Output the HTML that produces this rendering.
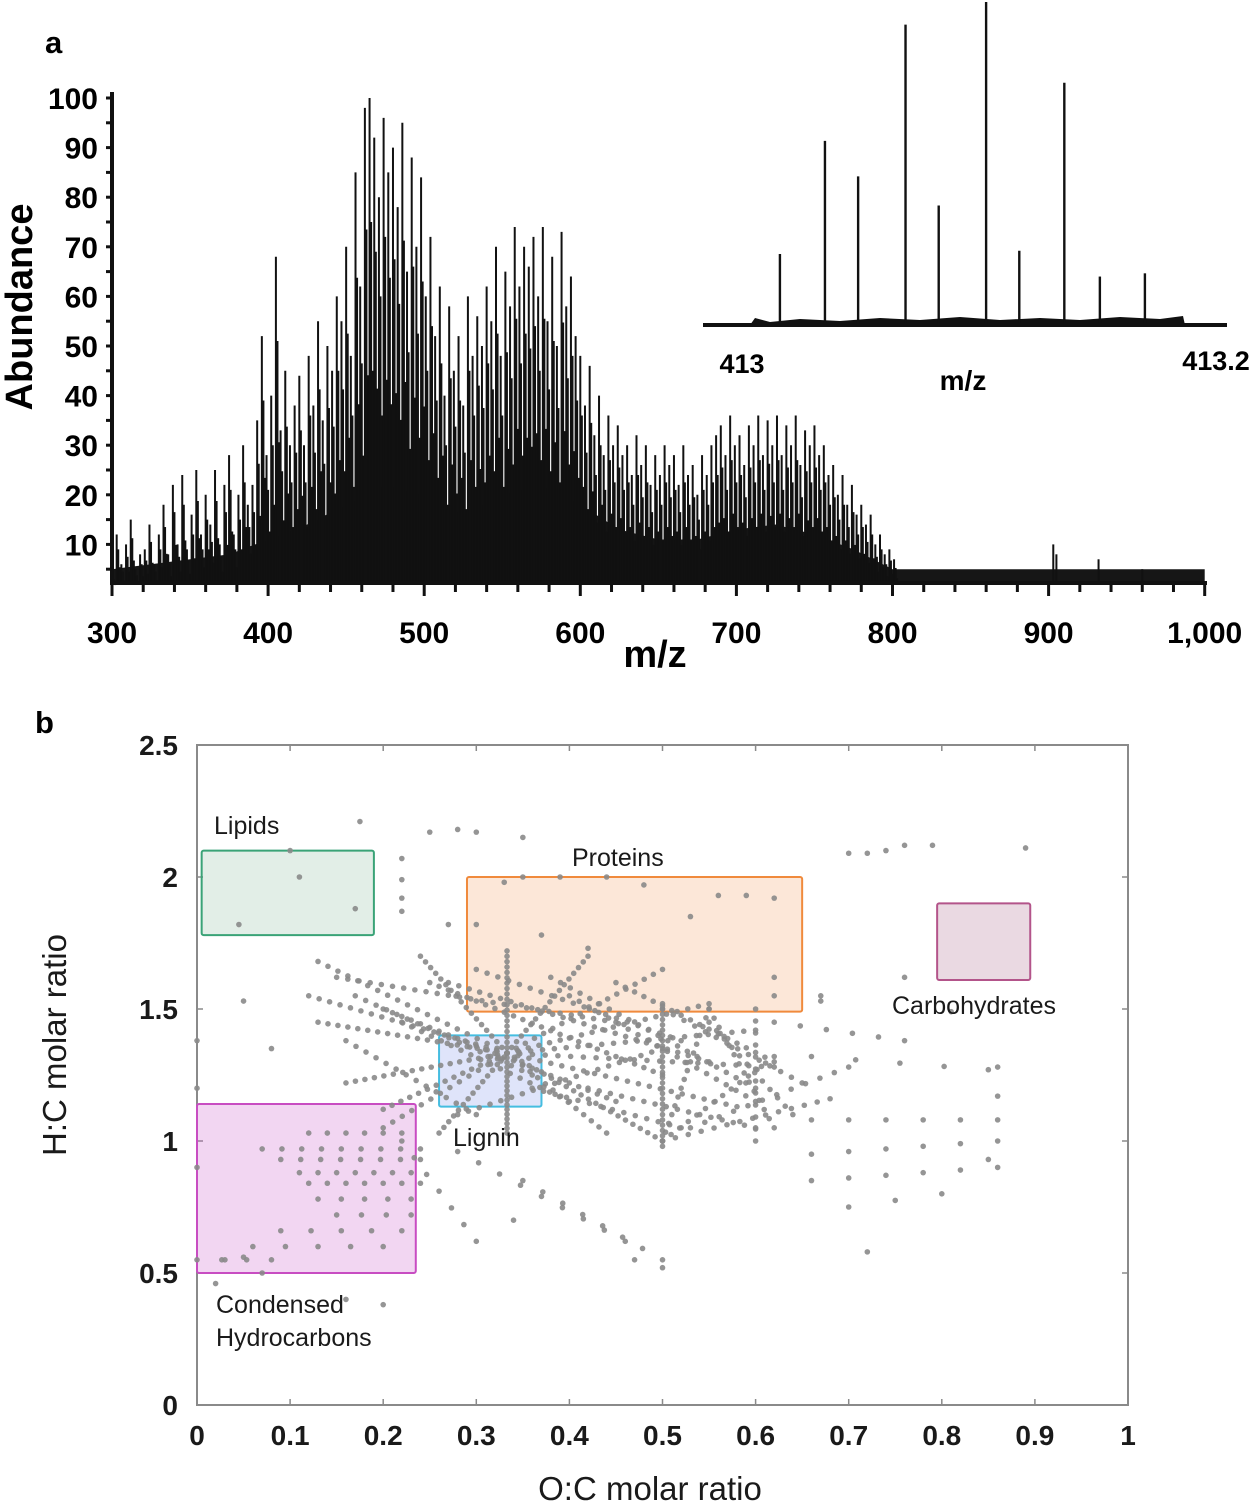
<!DOCTYPE html>
<html><head><meta charset="utf-8"><style>
html,body{margin:0;padding:0;background:#fff;}
svg{display:block;}
.t{font-family:"Liberation Sans",Arial,sans-serif;}
</style></head><body>
<svg id="fig" width="1252" height="1505" viewBox="0 0 1252 1505" xmlns="http://www.w3.org/2000/svg">
<g id="pa"></g>
<g id="pb"></g>
</svg>
<script>
// ===== Panel a data =====
const mzStart = 300, mzStep = 3;
const peakHeights = [
4,12,6,10,15,5,8,9,14,6,
12,18,8,22,10,24,9,16,25,12,
20,14,25,10,22,28,12,20,30,18,
22,35,52,28,40,68,33,45,30,38,
44,30,48,38,55,35,50,45,60,55,
70,48,85,62,98,100,92,80,96,85,
90,78,95,65,88,70,84,60,72,52,
62,40,58,45,52,38,60,48,56,50,
62,55,70,48,65,58,74,62,70,66,
72,60,74,55,68,50,73,58,64,52,
48,38,46,32,40,28,36,30,34,28,
30,24,32,26,30,22,28,24,30,26,
28,22,30,24,26,20,28,24,30,32,
34,28,36,30,32,26,34,30,36,28,
35,30,36,28,34,30,36,26,33,30,
34,28,30,24,26,20,24,18,22,16,
18,14,16,10,12,8,9,7];
const baseMz = [300,325,350,375,400,425,450,475,500,525,550,575,600,625,650,675,700,725,750,775,800,825,850,875,900,925,950,975,1000];
const baseVals = [5,6,7,8,11,14,18,22,20,16,20,22,18,13,11,11,13,14,12,9,5,5,5,5,5,5,5,5,5];
const extraMz = [903,905,932,960];
const extraVals = [10,8,7,5];
const xTicksA = [300,400,500,600,700,800,900,1000];
const xTickLabelsA = ["300","400","500","600","700","800","900","1,000"];
const yTicksA = [10,20,30,40,50,60,70,80,90,100];
// inset
const insetMz = [413.016,413.035,413.049,413.069,413.083,413.103,413.117,413.136,413.151,413.170];
const insetRel = [0.22,0.57,0.46,0.93,0.37,1.0,0.23,0.75,0.15,0.16];

// ===== Panel b data =====
const xTicksB = [0,0.1,0.2,0.3,0.4,0.5,0.6,0.7,0.8,0.9,1];
const xTickLabelsB = ["0","0.1","0.2","0.3","0.4","0.5","0.6","0.7","0.8","0.9","1"];
const yTicksB = [0,0.5,1,1.5,2,2.5];
const yTickLabelsB = ["0","0.5","1","1.5","2","2.5"];
const segX1 = [0.333,0.333,0.333,0.333,0.333,0.333,0.333,0.333,0.333,0.333,0.333,0.333,0.333,0.333,0.333,0.333,0.333,0.333, 0.15,0.16,0.25,0.2,0.27,0.28,0.38, 0.5,0.5,0.5,0.5,0.5,0.55,0.53,0.6, 0.28,0.35,0.22, 0.12,0.07,0.09,0.11,0.12,0.13,0.15,0.09,0.06,0.0, 0.66,0.66,0.66,0.7,0.62,0.66, 0.17,0.22,0.3,0.4,0.45,0.36,0.42,0.55];
const segY1 = [1.333,1.333,1.333,1.333,1.333,1.333,1.333,1.333,1.333,1.333,1.333,1.333,1.333,1.333,1.333,1.333,1.333,1.333, 1.62,1.38,1.6,1.5,1.6,1.1,1.62, 1.52,1.0,1.0,1.0,1.5,1.5,1.05,1.5, 0.96,0.85,1.0, 1.03,0.97,0.93,0.88,0.84,0.78,0.72,0.66,0.6,0.55, 1.08,0.95,0.85,0.75,1.45,1.32, 1.55,1.45,1.65,1.55,1.6,1.2,1.2,1.45];
const segX2 = [0.13,0.12,0.13,0.16,0.2,0.26,0.333,0.333,0.24,0.42,0.5,0.55,0.6,0.5,0.44,0.58,0.62,0.2, 0.45,0.3,0.5,0.45,0.55,0.5,0.6, 0.5,0.55,0.62,0.68,0.65,0.62,0.7,0.6, 0.46,0.5,0.3, 0.22,0.24,0.24,0.23,0.24,0.23,0.23,0.22,0.2,0.08, 0.86,0.86,0.86,0.8,0.76,0.85, 0.36,0.4,0.52,0.6,0.62,0.52,0.6,0.64];
const segY2 = [1.68,1.55,1.45,1.22,1.12,1.03,1.72,1.03,1.7,1.7,1.65,1.52,1.42,1.0,1.03,1.13,1.28,1.05, 1.45,1.1,1.25,1.15,1.3,1.35,1.2, 0.98,1.5,1.32,1.16,1.22,1.05,1.28,1.0, 0.62,0.55,0.62, 1.03,0.97,0.93,0.88,0.84,0.78,0.72,0.66,0.6,0.55, 1.08,1.0,0.9,0.8,1.38,1.27, 1.25,1.15,1.38,1.15,1.3,1.05,1.05,1.1];
const segCounts = [20,20,20,18,15,15,20,18,18,18,18,20,22,22,14,22,22,14, 26,14,26,26,26,20,22, 28,16,14,14,14,14,12,12, 9,8,7, 6,9,8,7,7,5,4,5,5,4, 6,6,6,3,6,5, 18,18,20,20,18,14,16,12];
const ptX = [0.1,0.11,0.17,0.045,0.175,0.05,0.08,0.22,0.22,0.25,0.28,0.3,0.35,0.22,0.22,0.27,0.3,0.35,0.39,0.33,0.44,0.48,0.56,0.59,0.62,0.53,0.37,0.42,0.62,0.62,0.67,0.67,0.7,0.72,0.74,0.76,0.79,0.76,0.81,0.86,0.89,0.86,0.85,0.72,0.5,0.47,0.34,0.2,0.16,0.02,0.05,0.03,0.07,0.0,0.0,0.0];
const ptY = [2.1,2.0,1.88,1.82,2.21,1.53,1.35,2.07,1.99,2.17,2.18,2.17,2.15,1.92,1.87,1.82,1.82,2.0,2.0,1.98,2.0,1.97,1.93,1.93,1.92,1.85,1.78,1.73,1.62,1.55,1.55,1.53,2.09,2.09,2.1,2.12,2.12,1.62,1.49,1.28,2.11,1.17,0.93,0.58,0.52,0.55,0.7,0.38,0.4,0.46,0.56,0.55,0.5,1.38,1.2,0.9];
const boxNames = ["lipids-box","proteins-box","lignin-box","condensed-hydrocarbons-box","carbohydrates-box"];
const boxX0 = [0.005,0.29,0.26,0.0,0.795];
const boxX1 = [0.19,0.65,0.37,0.235,0.895];
const boxY0 = [1.78,1.49,1.13,0.5,1.61];
const boxY1 = [2.1,2.0,1.4,1.14,1.9];
const boxStroke = ["#3aa377","#f08a3c","#45bde0","#c84dc2","#b3548a"];
const boxFill = ["rgba(60,140,95,0.15)","rgba(245,160,100,0.25)","rgba(110,130,230,0.22)","rgba(205,90,205,0.25)","rgba(160,80,125,0.22)"];

const NS = "http://www.w3.org/2000/svg";
function mk(parent, tag, attrs, text){
  const e = document.createElementNS(NS, tag);
  for (const k in attrs) e.setAttribute(k, attrs[k]);
  if (text !== undefined) e.textContent = text;
  parent.appendChild(e);
  return e;
}
// ===== Panel a =====
const pa = document.getElementById('pa');
const ax = mz => 112 + (mz - 300) * 1.561;
const ay = v => 594 - v * 4.96;
let lbl = mk(pa,'text',{x:45,y:53,class:'t','font-size':31,'font-weight':'bold'},'a');
 
let bd = `M${ax(300)},583`;
baseMz.forEach((m,i)=>{ bd += ` L${ax(m)},${Math.min(583,ay(baseVals[i]))}`; });
bd += ` L${ax(1000)},583 Z`;
let band = mk(pa,'path',{d:bd,fill:'#161616'});
 
const pk = mk(pa,'g',{stroke:'#111','stroke-width':2});
 
peakHeights.forEach((h,i)=>{
  const m = mzStart + i*mzStep;
  const l = mk(pk,'line',{x1:ax(m),x2:ax(m),y1:583,y2:ay(h)});
   
  const l2 = mk(pk,'line',{x1:ax(m+1),x2:ax(m+1),y1:583,y2:ay(h*0.75)});
   
  const l3 = mk(pk,'line',{x1:ax(m+2),x2:ax(m+2),y1:583,y2:ay(h*0.45)});
   
});
extraMz.forEach((m,i)=>{
  const l = mk(pk,'line',{x1:ax(m),x2:ax(m),y1:583,y2:ay(extraVals[i])});
   
});
let axl = mk(pa,'line',{x1:112,y1:583,x2:1207,y2:583,stroke:'#111','stroke-width':4});
 
let ayl = mk(pa,'line',{x1:112,y1:92,x2:112,y2:585,stroke:'#111','stroke-width':4});
 
for(let m=300;m<=1000;m+=20){
  const t = mk(pa,'line',{x1:ax(m),x2:ax(m),y1:583,y2:m%100===0?596:592,stroke:'#111','stroke-width':3});
   
}
xTicksA.forEach((m,i)=>{
  const t = mk(pa,'text',{x:ax(m),y:643,class:'t','font-size':30,'font-weight':'bold','text-anchor':'middle'},xTickLabelsA[i]);
   
});
for(let v=5;v<=100;v+=5){
  const t = mk(pa,'line',{x1:106,x2:112,y1:ay(v),y2:ay(v),stroke:'#111','stroke-width':3});
   
}
yTicksA.forEach(v=>{
  const t = mk(pa,'text',{x:98,y:ay(v)+11,class:'t','font-size':30,'font-weight':'bold','text-anchor':'end'},String(v));
   
});
let xt = mk(pa,'text',{x:655,y:667,class:'t','font-size':38,'font-weight':'bold','text-anchor':'middle'},'m/z');
 
let yt = mk(pa,'text',{x:0,y:0,class:'t','font-size':38,'font-weight':'bold','text-anchor':'middle',transform:'translate(32,307) rotate(-90)'},'Abundance');
 
const ins = mk(pa,'g',{});
 
const ix = m => 742 + (m - 413) * 2370;
const iy = r => 325 - r * 323;
let inb = mk(ins,'path',{d:'M750,325 L755,318 L770,322 L800,319 L840,321 L880,318 L920,320 L960,317 L1000,320 L1040,318 L1080,320 L1120,317 L1160,319 L1183,316 L1185,325 Z',fill:'#111'});
 
insetMz.forEach((m,i)=>{
  const l = mk(ins,'line',{x1:ix(m),x2:ix(m),y1:325,y2:iy(insetRel[i]),stroke:'#111','stroke-width':2.4});
   
});
let ial = mk(ins,'line',{x1:703,y1:325,x2:1227,y2:325,stroke:'#111','stroke-width':4});
 
let i1 = mk(ins,'text',{x:742,y:373,class:'t','font-size':27,'font-weight':'bold','text-anchor':'middle'},'413');
 
let i2 = mk(ins,'text',{x:1216,y:370,class:'t','font-size':27,'font-weight':'bold','text-anchor':'middle'},'413.2');
 
let i3 = mk(ins,'text',{x:963,y:390,class:'t','font-size':28,'font-weight':'bold','text-anchor':'middle'},'m/z');
 

// ===== Panel b =====
const pb = document.getElementById('pb');
const bx = v => 197 + v * 931;
const by = v => 1405 - v * 264;
let lb = mk(pb,'text',{x:35,y:733,class:'t','font-size':31,'font-weight':'bold'},'b');
 
let frame = mk(pb,'rect',{x:197,y:745,width:931,height:660,fill:'none',stroke:'#8a8a8a','stroke-width':2});
 
xTicksB.forEach((v,i)=>{
  const a = mk(pb,'line',{x1:bx(v),x2:bx(v),y1:745,y2:751,stroke:'#8a8a8a','stroke-width':1.5});
   
  const b = mk(pb,'line',{x1:bx(v),x2:bx(v),y1:1405,y2:1399,stroke:'#8a8a8a','stroke-width':1.5});
   
  const t = mk(pb,'text',{x:bx(v),y:1445,class:'t','font-size':28,'font-weight':'bold','text-anchor':'middle',fill:'#1a1a1a'},xTickLabelsB[i]);
   
});
yTicksB.forEach((v,i)=>{
  const a = mk(pb,'line',{x1:197,x2:203,y1:by(v),y2:by(v),stroke:'#8a8a8a','stroke-width':1.5});
   
  const b = mk(pb,'line',{x1:1128,x2:1122,y1:by(v),y2:by(v),stroke:'#8a8a8a','stroke-width':1.5});
   
  const t = mk(pb,'text',{x:178,y:by(v)+10,class:'t','font-size':28,'font-weight':'bold','text-anchor':'end',fill:'#1a1a1a'},yTickLabelsB[i]);
   
});
let bxt = mk(pb,'text',{x:650,y:1500,class:'t','font-size':33,'text-anchor':'middle',fill:'#1a1a1a'},'O:C molar ratio');
 
let byt = mk(pb,'text',{x:0,y:0,class:'t','font-size':33,'text-anchor':'middle',fill:'#1a1a1a',transform:'translate(66,1045) rotate(-90)'},'H:C molar ratio');
 
boxNames.forEach((n,i)=>{
  const r = mk(pb,'rect',{x:bx(boxX0[i]),y:by(boxY1[i]),width:bx(boxX1[i])-bx(boxX0[i]),height:by(boxY0[i])-by(boxY1[i]),fill:boxFill[i],stroke:boxStroke[i],'stroke-width':2,rx:2});
   
});
const sg = mk(pb,'g',{fill:'#8a8a8a','fill-opacity':0.9});
 
segX1.forEach((x1,i)=>{
  const n = segCounts[i];
  for(let k=0;k<n;k++){
    const f = n>1 ? k/(n-1) : 0;
    const x = x1 + (segX2[i]-x1)*f, y = segY1[i] + (segY2[i]-segY1[i])*f;
    const c = mk(sg,'circle',{cx:bx(x),cy:by(y),r:2.8});
     
  }
});
ptX.forEach((x,i)=>{
  const c = mk(sg,'circle',{cx:bx(x),cy:by(ptY[i]),r:2.8});
   
});
const labTxt = ["Lipids","Proteins","Lignin","Condensed","Hydrocarbons","Carbohydrates"];
const labX = [214,572,453,216,216,892];
const labY = [834,866,1146,1313,1346,1014];
const labNames = ["lipids-label","proteins-label","lignin-label","condensed-label","hydrocarbons-label","carbohydrates-label"];
labTxt.forEach((s,i)=>{
  const t = mk(pb,'text',{x:labX[i],y:labY[i],class:'t','font-size':25,fill:'#1a1a1a'},s);
   
});
</script>
</body></html>
